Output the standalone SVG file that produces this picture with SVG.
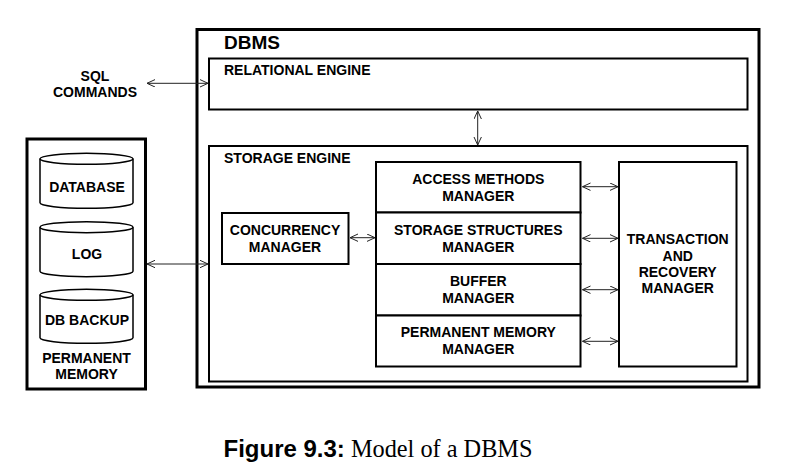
<svg xmlns="http://www.w3.org/2000/svg" width="803" height="475" viewBox="0 0 803 475">
<style>
  .t { font-family: "Liberation Sans", Arial, sans-serif; font-weight: bold; font-size: 14px; fill: #000; }
  .c { text-anchor: middle; }
  .box { fill: #fff; stroke: #000; stroke-width: 2; }
  .thick { fill: #fff; stroke: #000; stroke-width: 3; }
  .cyl { fill: #fff; stroke: #000; stroke-width: 1.5; }
  .arr { stroke: #222; stroke-width: 1; fill: none; marker-start: url(#ah); marker-end: url(#ah); }
</style>
<defs>
  <marker id="ah" markerUnits="userSpaceOnUse" markerWidth="10" markerHeight="10" refX="8" refY="4" orient="auto-start-reverse" viewBox="0 0 10 10">
    <path d="M0,0.3 L8,4 L0,7.7" fill="none" stroke="#222" stroke-width="1"/>
  </marker>
</defs>
<rect width="803" height="475" fill="#fff"/>

<g id="dbms">
  <rect class="thick" x="197" y="29.5" width="562" height="357.5"/>
  <text class="t" x="224" y="48.5" style="font-size:19px">DBMS</text>
</g>
<g id="relational-engine">
  <rect class="box" x="209" y="58.5" width="538.5" height="51"/>
  <text class="t" x="224" y="75">RELATIONAL ENGINE</text>
</g>
<g id="storage-engine">
  <rect class="box" x="209" y="146" width="538.5" height="235.5"/>
  <text class="t" x="224" y="162.7">STORAGE ENGINE</text>
</g>
<g id="concurrency-manager">
  <rect class="box" x="222" y="213" width="126.5" height="51"/>
  <text class="t c" x="285" y="235">CONCURRENCY</text>
  <text class="t c" x="285" y="251.7">MANAGER</text>
</g>
<g id="access-methods-manager">
  <rect class="box" x="376" y="162" width="204.5" height="50.5"/>
  <text class="t c" x="478.3" y="184">ACCESS METHODS</text>
  <text class="t c" x="478.3" y="200.7">MANAGER</text>
</g>
<g id="storage-structures-manager">
  <rect class="box" x="376" y="212.5" width="204.5" height="51.5"/>
  <text class="t c" x="478.3" y="235">STORAGE STRUCTURES</text>
  <text class="t c" x="478.3" y="251.7">MANAGER</text>
</g>
<g id="buffer-manager">
  <rect class="box" x="376" y="264" width="204.5" height="51.5"/>
  <text class="t c" x="478.3" y="286">BUFFER</text>
  <text class="t c" x="478.3" y="302.7">MANAGER</text>
</g>
<g id="permanent-memory-manager">
  <rect class="box" x="376" y="315.5" width="204.5" height="51"/>
  <text class="t c" x="478.3" y="337.3">PERMANENT MEMORY</text>
  <text class="t c" x="478.3" y="354.3">MANAGER</text>
</g>
<g id="transaction-recovery-manager">
  <rect class="box" x="619" y="162" width="117.5" height="204.5"/>
  <text class="t c" x="677.7" y="244">TRANSACTION</text>
  <text class="t c" x="677.7" y="260.7">AND</text>
  <text class="t c" x="677.7" y="276.7">RECOVERY</text>
  <text class="t c" x="677.7" y="293.3">MANAGER</text>
</g>
<g id="sql-commands">
  <text class="t c" x="95" y="80.7">SQL</text>
  <text class="t c" x="95" y="96.7">COMMANDS</text>
</g>
<g id="permanent-memory">
  <rect class="thick" x="27" y="139" width="118.5" height="250"/>
  <text class="t c" x="86.5" y="363.3">PERMANENT</text>
  <text class="t c" x="86.5" y="379.3">MEMORY</text>
</g>
<g id="database">
  <path class="cyl" d="M40,158.8 L40,202.8 A46.5,5.5 0 0 0 133,202.8 L133,158.8"/>
  <ellipse class="cyl" cx="86.5" cy="158.8" rx="46.5" ry="5.5"/>
  <text class="t c" x="87" y="192.3">DATABASE</text>
</g>
<g id="log">
  <path class="cyl" d="M40,227.2 L40,271.2 A46.5,5.5 0 0 0 133,271.2 L133,227.2"/>
  <ellipse class="cyl" cx="86.5" cy="227.2" rx="46.5" ry="5.5"/>
  <text class="t c" x="87" y="259">LOG</text>
</g>
<g id="db-backup">
  <path class="cyl" d="M40,294.8 L40,337.8 A46.5,5.5 0 0 0 133,337.8 L133,294.8"/>
  <ellipse class="cyl" cx="86.5" cy="294.8" rx="46.5" ry="5.5"/>
  <text class="t c" x="87" y="325">DB BACKUP</text>
</g>

<g id="connectors">
  <line class="arr" x1="147" y1="83.3" x2="208" y2="83.3"/>
  <line class="arr" x1="477.7" y1="111" x2="477.7" y2="145"/>
  <line class="arr" x1="147" y1="264" x2="208" y2="264"/>
  <line class="arr" x1="350" y1="237.7" x2="375" y2="237.7"/>
  <line class="arr" x1="582.5" y1="186.7" x2="618" y2="186.7"/>
  <line class="arr" x1="582.5" y1="238.3" x2="618" y2="238.3"/>
  <line class="arr" x1="582.5" y1="289.7" x2="618" y2="289.7"/>
  <line class="arr" x1="582.5" y1="341.3" x2="618" y2="341.3"/>
</g>

<g id="caption">
  <text x="223.5" y="456.7" style="font-family:'Liberation Sans',Arial,sans-serif;font-weight:bold;font-size:24px">Figure 9.3:<tspan style="font-family:'Liberation Serif','Times New Roman',serif;font-weight:normal;font-size:24.3px"> Model of a DBMS</tspan></text>
</g>
</svg>
